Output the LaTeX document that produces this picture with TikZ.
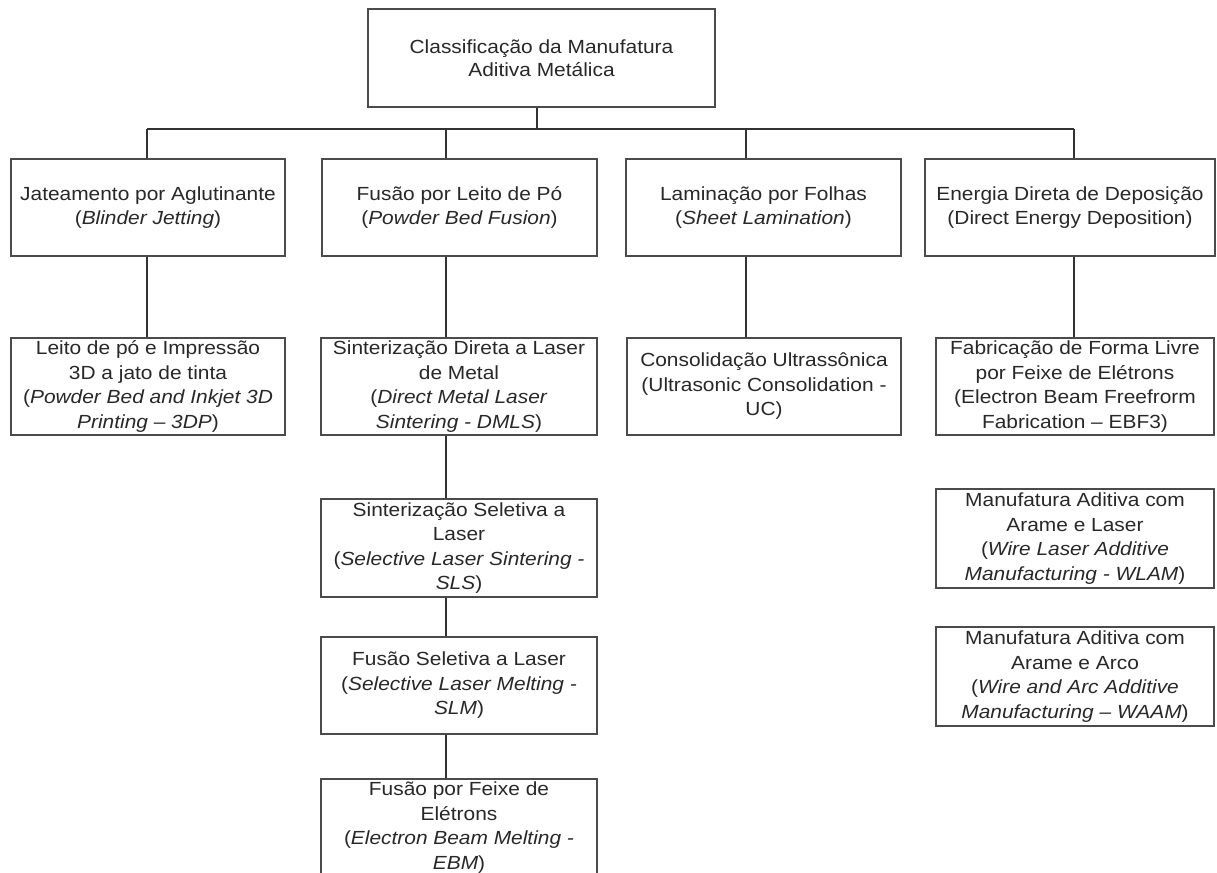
\documentclass[tikz,border=0pt]{standalone}
\usepackage{fontspec}
\setmainfont[FakeStretch=1.1]{Liberation Sans}
\usetikzlibrary{calc}
\definecolor{boxcol}{RGB}{75,75,75}
\definecolor{linecol}{RGB}{50,50,50}
\definecolor{txtcol}{RGB}{40,40,40}
\begin{document}
\begin{tikzpicture}[x=1pt,y=-1pt,
  box/.style={draw=boxcol, line width=2pt, fill=white, text=txtcol, align=center,
    inner sep=0pt, font=\fontsize{19}{24.5}\selectfont},
  boxtwo/.style={box, font=\fontsize{19}{23.5}\selectfont},
  conn/.style={draw=linecol, line width=1.5pt}]
\useasboundingbox (0,0) rectangle (1217,872);
\clip (0,0) rectangle (1217,872);

% bus coordinates
\coordinate (bus0) at (537,129);
\coordinate (bus1) at (147,129);
\coordinate (bus2) at (446,129);
\coordinate (bus3) at (746,129);
\coordinate (bus4) at (1074,129);

% top
\node[boxtwo, minimum width=347pt, minimum height=98pt] (top) at (541.5,58)
  {Classificação da Manufatura\\Aditiva Metálica};

% level 2
\node[boxtwo, minimum width=274pt, minimum height=97pt] (b1) at (148,207.5)
  {Jateamento por Aglutinante\\(\textit{Blinder Jetting})};
\node[boxtwo, minimum width=275pt, minimum height=97pt] (b2) at (459.5,207.5)
  {Fusão por Leito de Pó\\(\textit{Powder Bed Fusion})};
\node[boxtwo, minimum width=275pt, minimum height=97pt] (b3) at (763.5,207.5)
  {Laminação por Folhas\\(\textit{Sheet Lamination})};
\node[boxtwo, minimum width=290pt, minimum height=97pt] (b4) at (1070,207.5)
  {Energia Direta de Deposição\\(Direct Energy Deposition)};

% level 3
\node[box, minimum width=274pt, minimum height=97pt] (c1) at (148,386.5)
  {Leito de pó e Impressão\\3D a jato de tinta\\(\textit{Powder Bed and Inkjet 3D}\\\textit{Printing – 3DP})};
\node[box, minimum width=276pt, minimum height=97pt] (c2) at (459,386.5)
  {Sinterização Direta a Laser\\de Metal\\(\textit{Direct Metal Laser}\\\textit{Sintering - DMLS})};
\node[box, minimum width=274pt, minimum height=97pt] (c3) at (764,386.5)
  {Consolidação Ultrassônica\\(Ultrasonic Consolidation -\\UC)};
\node[box, minimum width=278pt, minimum height=97pt] (c4) at (1075,386.5)
  {Fabricação de Forma Livre\\por Feixe de Elétrons\\(Electron Beam Freefrorm\\Fabrication – EBF3)};

% column 2 lower
\node[box, minimum width=276pt, minimum height=98pt] (sls) at (459,548)
  {Sinterização Seletiva a\\Laser\\(\textit{Selective Laser Sintering -}\\\textit{SLS})};
\node[box, minimum width=276pt, minimum height=97pt] (slm) at (459,685.5)
  {Fusão Seletiva a Laser\\(\textit{Selective Laser Melting -}\\\textit{SLM})};
\node[box, minimum width=276pt, minimum height=97pt] (ebm) at (459,827.5)
  {Fusão por Feixe de\\Elétrons\\(\textit{Electron Beam Melting -}\\\textit{EBM})};

% column 4 lower
\node[box, minimum width=278pt, minimum height=99pt] (wlam) at (1075,538.5)
  {Manufatura Aditiva com\\Arame e Laser\\(\textit{Wire Laser Additive}\\\textit{Manufacturing - WLAM})};
\node[box, minimum width=278pt, minimum height=99pt] (waam) at (1075,676.5)
  {Manufatura Aditiva com\\Arame e Arco\\(\textit{Wire and Arc Additive}\\\textit{Manufacturing – WAAM})};

% connectors
\draw[conn] (top.south -| bus0) -- (bus0);
\draw[conn] (bus1) -- (bus4);
\draw[conn] (bus1) -- (bus1 |- b1.north);
\draw[conn] (bus2) -- (bus2 |- b2.north);
\draw[conn] (bus3) -- (bus3 |- b3.north);
\draw[conn] (bus4) -- (bus4 |- b4.north);
\draw[conn] (b1.south -| bus1) -- (c1.north -| bus1);
\draw[conn] (b2.south -| bus2) -- (c2.north -| bus2);
\draw[conn] (b3.south -| bus3) -- (c3.north -| bus3);
\draw[conn] (b4.south -| bus4) -- (c4.north -| bus4);
\draw[conn] (c2.south -| bus2) -- (sls.north -| bus2);
\draw[conn] (sls.south -| bus2) -- (slm.north -| bus2);
\draw[conn] (slm.south -| bus2) -- (ebm.north -| bus2);
\end{tikzpicture}
\end{document}
